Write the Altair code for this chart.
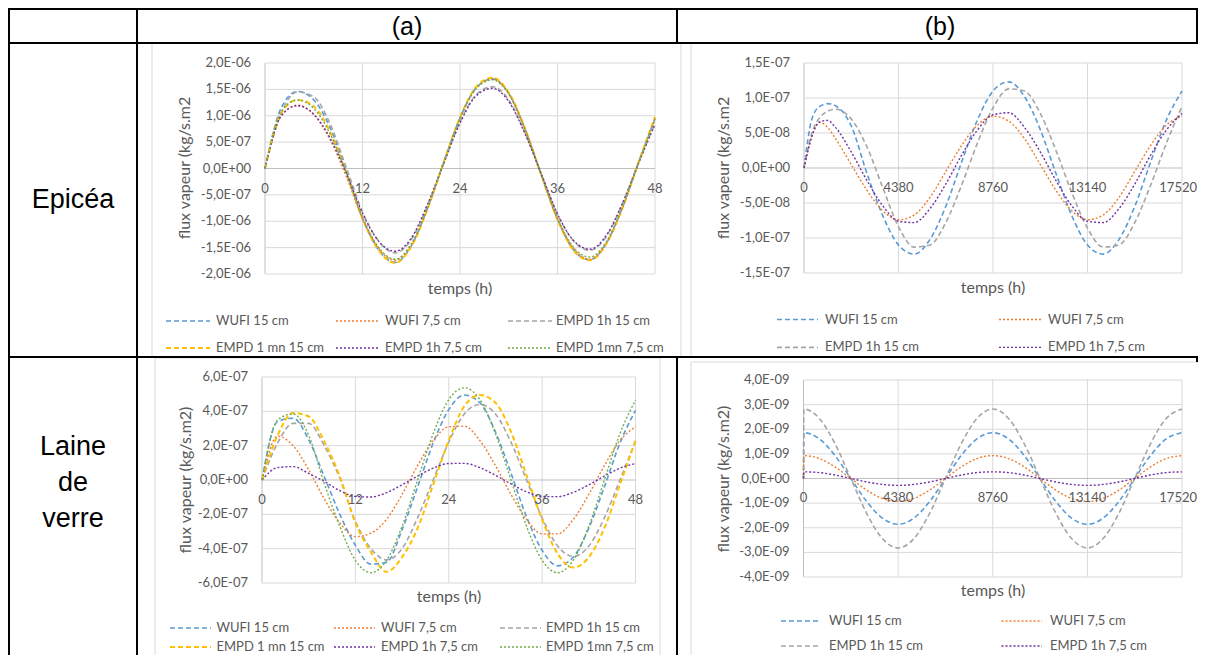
import altair as alt
import pandas as pd

# ---------------------------------------------------------------- data
# time axes (h)
T_A = [0, 2, 4, 6, 8, 10, 12, 14, 16, 18, 20, 22, 24, 26, 28, 30, 32, 34, 36, 38, 40, 42, 44, 46, 48]
T_B1 = [0, 365, 730, 1095, 1460, 2190, 2920, 3650, 4380, 5110, 5840, 6570, 7300, 8030, 8760,
        9490, 10220, 10950, 11680, 12410, 13140, 13870, 14600, 15330, 16060, 16790, 17520]
T_B2 = [0, 20, 730, 1460, 2190, 2920, 3650, 4380, 5110, 5840, 6570, 7300, 8030, 8760,
        9490, 10220, 10950, 11680, 12410, 13140, 13870, 14600, 15330, 16060, 16790, 17520]

NAMES_A = ["WUFI 15 cm", "WUFI 7,5 cm", "EMPD 1h 15 cm", "EMPD 1 mn 15 cm", "EMPD 1h 7,5 cm", "EMPD 1mn 7,5 cm"]
NAMES_B = ["WUFI 15 cm", "WUFI 7,5 cm", "EMPD 1h 15 cm", "EMPD 1h 7,5 cm"]

# Epicéa (a): flux in 1e-6 kg/s.m2
EPI_A_WUFI15 = [0, 1.15, 1.46, 1.30, 0.78, -0.05, -0.95, -1.55, -1.78, -1.47, -0.75, 0.12, 0.96, 1.53, 1.70, 1.42, 0.75, -0.12, -0.96, -1.55, -1.73, -1.42, -0.74, 0.12, 0.95]
EPI_A_WUFI75 = [0, 1.00, 1.20, 1.02, 0.55, -0.15, -0.95, -1.52, -1.74, -1.45, -0.76, 0.10, 0.95, 1.52, 1.70, 1.42, 0.75, -0.12, -0.95, -1.52, -1.72, -1.42, -0.74, 0.12, 0.95]
EPI_A_EMPD1H15 = [0, 1.05, 1.45, 1.36, 0.85, 0.02, -0.82, -1.38, -1.60, -1.35, -0.70, 0.10, 0.88, 1.40, 1.55, 1.30, 0.68, -0.10, -0.87, -1.38, -1.55, -1.29, -0.66, 0.12, 0.85]
EPI_A_EMPD1MN15 = [0, 1.05, 1.30, 1.18, 0.70, -0.08, -0.95, -1.55, -1.79, -1.48, -0.77, 0.12, 0.97, 1.55, 1.72, 1.44, 0.76, -0.12, -0.97, -1.56, -1.74, -1.43, -0.75, 0.13, 0.98]
EPI_A_EMPD1H75 = [0, 1.00, 1.19, 1.03, 0.58, -0.08, -0.85, -1.38, -1.57, -1.32, -0.68, 0.10, 0.86, 1.38, 1.52, 1.27, 0.66, -0.10, -0.86, -1.37, -1.53, -1.27, -0.66, 0.11, 0.84]
EPI_A_EMPD1MN75 = [0, 1.08, 1.30, 1.14, 0.66, -0.08, -0.92, -1.50, -1.72, -1.43, -0.74, 0.12, 0.95, 1.52, 1.68, 1.41, 0.74, -0.12, -0.94, -1.50, -1.68, -1.39, -0.72, 0.12, 0.93]

# Epicéa (b): flux in 1e-8 kg/s.m2
EPI_B_WUFI15 = [0, 7.0, 8.8, 9.2, 8.9, 6.0, -0.8, -6.8, -11.0, -12.3, -10.2, -5.5, 0.8, 6.8, 11.0, 12.3, 10.2, 5.5, -0.8, -6.8, -11.0, -12.3, -10.2, -5.5, 0.8, 6.8, 11.0]
EPI_B_WUFI75 = [0, 4.6, 6.5, 5.8, 4.2, 0.5, -3.2, -6.1, -7.4, -6.7, -4.2, -0.5, 3.2, 6.1, 7.4, 6.7, 4.2, 0.5, -3.2, -6.1, -7.4, -6.7, -4.2, -0.5, 3.2, 6.1, 7.4]
EPI_B_EMPD1H15 = [0, 5.0, 7.2, 8.1, 8.4, 7.0, 3.0, -2.8, -8.4, -11.3, -11.0, -7.8, -2.5, 3.5, 8.6, 11.3, 11.0, 7.8, 2.5, -3.5, -8.6, -11.3, -11.0, -7.8, -2.5, 3.5, 8.8]
EPI_B_EMPD1H75 = [0, 4.5, 6.6, 6.8, 5.8, 2.3, -1.8, -5.4, -7.6, -7.8, -5.8, -2.3, 1.8, 5.4, 7.6, 7.9, 5.8, 2.3, -1.8, -5.4, -7.6, -7.8, -5.8, -2.3, 1.8, 5.4, 7.8]

# Laine de verre (a): flux in 1e-7 kg/s.m2
LDV_A_WUFI15 = [0, 3.4, 3.6, 2.35, 0.2, -2.0, -3.8, -4.9, -4.8, -2.9, -0.4, 2.15, 4.1, 4.95, 4.5, 2.8, 0.4, -2.15, -4.1, -5.0, -4.5, -2.8, -0.4, 2.15, 4.05]
LDV_A_WUFI75 = [0, 2.55, 2.0, 0.6, -1.1, -2.5, -3.3, -3.1, -2.3, -0.84, 0.84, 2.3, 3.1, 3.14, 2.3, 0.84, -0.84, -2.3, -3.14, -3.14, -2.3, -0.84, 0.84, 2.3, 3.1]
LDV_A_EMPD1H15 = [0, 2.15, 3.3, 3.3, 2.0, 0.1, -2.4, -4.0, -4.65, -4.0, -2.2, 0, 2.2, 3.85, 4.4, 3.85, 2.2, 0, -2.2, -3.85, -4.45, -3.85, -2.2, 0, 2.25]
LDV_A_EMPD1MN15 = [0, 2.6, 3.9, 3.7, 2.25, 0.2, -2.5, -4.2, -5.35, -4.5, -2.8, -0.27, 2.3, 4.3, 4.95, 4.5, 2.8, 0.27, -2.3, -4.3, -5.1, -4.5, -2.8, -0.27, 2.3]
LDV_A_EMPD1H75 = [0, 0.72, 0.78, 0.38, -0.08, -0.62, -0.96, -0.99, -0.74, -0.28, 0.23, 0.69, 0.96, 0.97, 0.72, 0.28, -0.23, -0.69, -0.96, -0.97, -0.72, -0.28, 0.23, 0.69, 0.96]
LDV_A_EMPD1MN75 = [0, 3.5, 3.85, 2.6, -0.2, -2.7, -4.68, -5.4, -4.68, -2.7, 0, 2.7, 4.68, 5.37, 4.68, 2.7, 0, -2.7, -4.68, -5.4, -4.68, -2.7, 0, 2.7, 4.65]

# Laine de verre (b): flux in 1e-9 kg/s.m2
LDV_B_WUFI15 = [0, 1.86, 1.61, 0.93, 0, -0.93, -1.61, -1.86, -1.61, -0.93, 0, 0.93, 1.61, 1.86, 1.61, 0.93, 0, -0.93, -1.61, -1.86, -1.61, -0.93, 0, 0.93, 1.61, 1.86]
LDV_B_WUFI75 = [0, 0.93, 0.81, 0.47, 0, -0.47, -0.81, -0.93, -0.81, -0.47, 0, 0.47, 0.81, 0.93, 0.81, 0.47, 0, -0.47, -0.81, -0.93, -0.81, -0.47, 0, 0.47, 0.81, 0.93]
LDV_B_EMPD1H15 = [0, 2.82, 2.44, 1.41, 0, -1.41, -2.44, -2.82, -2.44, -1.41, 0, 1.41, 2.44, 2.82, 2.44, 1.41, 0, -1.41, -2.44, -2.82, -2.44, -1.41, 0, 1.41, 2.44, 2.82]
LDV_B_EMPD1H75 = [0, 0.27, 0.24, 0.14, 0, -0.14, -0.24, -0.28, -0.24, -0.14, 0, 0.14, 0.24, 0.27, 0.24, 0.14, 0, -0.14, -0.24, -0.28, -0.24, -0.14, 0, 0.14, 0.24, 0.27]

# axis ticks and labels
XT_A = [0, 12, 24, 36, 48]
XL_A = ["0", "12", "24", "36", "48"]
XT_B = [0, 4380, 8760, 13140, 17520]
XL_B = ["0", "4380", "8760", "13140", "17520"]
YT_A1 = [-2, -1.5, -1, -0.5, 0, 0.5, 1, 1.5, 2]
YL_A1 = ["-2,0E-06", "-1,5E-06", "-1,0E-06", "-5,0E-07", "0,0E+00", "5,0E-07", "1,0E-06", "1,5E-06", "2,0E-06"]
YT_B1 = [-15, -10, -5, 0, 5, 10, 15]
YL_B1 = ["-1,5E-07", "-1,0E-07", "-5,0E-08", "0,0E+00", "5,0E-08", "1,0E-07", "1,5E-07"]
YT_A2 = [-6, -4, -2, 0, 2, 4, 6]
YL_A2 = ["-6,0E-07", "-4,0E-07", "-2,0E-07", "0,0E+00", "2,0E-07", "4,0E-07", "6,0E-07"]
YT_B2 = [-4, -3, -2, -1, 0, 1, 2, 3, 4]
YL_B2 = ["-4,0E-09", "-3,0E-09", "-2,0E-09", "-1,0E-09", "0,0E+00", "1,0E-09", "2,0E-09", "3,0E-09", "4,0E-09"]

# ---------------------------------------------------------------- styles / layout
OFF = 8                     # page margin
W, H = 1190, 647            # canvas
FONT = "Lato"
TFONT = "Liberation Sans"
TXT = "#595959"
GRID = "#d9d9d9"
AXLINE = "#bfbfbf"
STYLE = {
    "WUFI 15 cm": ("#5B9BD5", "dash", 1.6),
    "WUFI 7,5 cm": ("#ED7D31", "dot", 1.4),
    "EMPD 1h 15 cm": ("#A5A5A5", "dash", 1.6),
    "EMPD 1 mn 15 cm": ("#FFC000", "dash", 2.0),
    "EMPD 1h 7,5 cm": ("#7030A0", "dot", 1.4),
    "EMPD 1mn 7,5 cm": ("#70AD47", "dot", 1.4),
}
DASHES = {"dash": [5, 3], "dot": [2, 2]}

# plot areas (screen px): left, right, top, bottom
BOX_A1 = (265, 655, 63, 274)
BOX_B1 = (804, 1182, 63, 273)
BOX_A2 = (262, 635.5, 377, 583)
BOX_B2 = (803.5, 1182, 380, 577)


def panel(t, series, names, xdom, xt, xl, ydom, yt, yl, box, xdy, last_right):
    L, R, T, B = [v - OFF for v in box]
    xs = alt.Scale(domain=xdom, range=[L, R], nice=False, zero=False)
    ys = alt.Scale(domain=ydom, range=[B, T], nice=False, zero=False)

    def X(f):
        return alt.X(f, type="quantitative", scale=xs, axis=None)

    def Y(f):
        return alt.Y(f, type="quantitative", scale=ys, axis=None)

    vg = pd.DataFrame({"t": xt, "y0": [ydom[0]] * len(xt), "y1": [ydom[1]] * len(xt),
                       "c": [AXLINE if v == xdom[0] else GRID for v in xt]})
    vgrid = alt.Chart(vg).mark_rule(strokeWidth=1).encode(
        x=X("t"), y=Y("y0"), y2=alt.Y2("y1"), color=alt.Color("c:N", scale=None))
    hg = pd.DataFrame({"v": yt, "x0": [xdom[0]] * len(yt), "x1": [xdom[1]] * len(yt),
                       "c": [AXLINE if v == 0 else GRID for v in yt]})
    hgrid = alt.Chart(hg).mark_rule(strokeWidth=1).encode(
        y=Y("v"), x=X("x0"), x2=alt.X2("x1"), color=alt.Color("c:N", scale=None))

    rows = []
    for name, vals in zip(names, series):
        col, sty, w = STYLE[name]
        for ti, vi in zip(t, vals):
            rows.append({"name": name, "t": ti, "v": vi, "color": col, "style": sty, "w": w})
    df = pd.DataFrame(rows)
    lines = []
    for sty in ["dash", "dot"]:
        sub = df[df["style"] == sty]
        lines.append(alt.Chart(sub).mark_line(strokeDash=DASHES[sty], interpolate="monotone").encode(
            x=X("t"), y=Y("v"),
            color=alt.Color("color:N", scale=None),
            strokeWidth=alt.StrokeWidth("w:Q", scale=None),
            detail="name:N"))

    ylab = alt.Chart(pd.DataFrame({"t": [xdom[0]] * len(yt), "v": yt, "lab": yl})).mark_text(
        align="right", baseline="middle", dx=-14, font=FONT, fontSize=13, color=TXT).encode(
        x=X("t"), y=Y("v"), text="lab:N")
    n_c = len(xt) - 1 if last_right else len(xt)
    xlab = alt.Chart(pd.DataFrame({"t": xt[:n_c], "v": [0] * n_c, "lab": xl[:n_c]})).mark_text(
        align="center", baseline="middle", dy=xdy, font=FONT, fontSize=13, color=TXT).encode(
        x=X("t"), y=Y("v"), text="lab:N")
    layers = [vgrid, hgrid, *lines, ylab, xlab]
    if last_right:
        layers.append(alt.Chart(pd.DataFrame({"t": xt[-1:], "v": [0], "lab": xl[-1:]})).mark_text(
            align="right", baseline="middle", dx=15, dy=xdy, font=FONT, fontSize=13, color=TXT).encode(
            x=X("t"), y=Y("v"), text="lab:N"))
    return alt.layer(*layers)


def px(df):
    d = df.copy()
    for c in d.columns:
        if c.startswith("x") or c.startswith("y"):
            d[c] = d[c] - OFF
    return d


def PX(f):
    return alt.X(f, type="quantitative", scale=None)


def PY(f):
    return alt.Y(f, type="quantitative", scale=None)


# chart-area frames
frames = px(pd.DataFrame({
    "x0": [152, 691, 155, 691], "x1": [681, 1215, 660, 1215],
    "y0": [43, 43, 358, 362], "y1": [357, 357, 665, 665]}))
frame_layer = alt.Chart(frames).mark_rect(fill="white", stroke=GRID, strokeWidth=1).encode(
    x=PX("x0"), x2=alt.X2("x1"), y=PY("y0"), y2=alt.Y2("y1"))

# table lines
tl = px(pd.DataFrame({
    "x0": [8, 8, 8, 9, 137, 677, 677, 1197, 1197],
    "x1": [1206, 1206, 1206, 9, 137, 677, 677, 1197, 1197],
    "y0": [9, 43, 357, 9, 9, 9, 357, 9, 357],
    "y1": [9, 43, 357, 660, 660, 43, 660, 43, 362]}))
table_layer = alt.Chart(tl).mark_rule(color="black", strokeWidth=2).encode(
    x=PX("x0"), x2=alt.X2("x1"), y=PY("y0"), y2=alt.Y2("y1"))

hd = px(pd.DataFrame({"x": [407, 940], "y": [27, 27], "txt": ["(a)", "(b)"]}))
header_text = alt.Chart(hd).mark_text(font=TFONT, fontSize=25, color="black",
                                      align="center", baseline="middle").encode(
    x=PX("x"), y=PY("y"), text="txt:N")
rl = px(pd.DataFrame({"x": [73, 73, 73, 73], "y": [200, 447, 483, 519],
                      "txt": ["Epicéa", "Laine", "de", "verre"]}))
row_text = alt.Chart(rl).mark_text(font=TFONT, fontSize=27, color="black",
                                   align="center", baseline="middle").encode(
    x=PX("x"), y=PY("y"), text="txt:N")

# axis titles
at = px(pd.DataFrame({
    "x": [460, 993, 449, 993, 185, 724, 185.5, 724],
    "y": [289, 288, 597, 591, 168, 168, 480, 479],
    "ang": [0, 0, 0, 0, 270, 270, 270, 270],
    "txt": ["temps (h)", "temps (h)", "temps (h)", "temps (h)",
            "flux vapeur (kg/s.m2", "flux vapeur (kg/s.m2",
            "flux vapeur (kg/s.m2)", "flux vapeur (kg/s.m2)"]}))
axis_titles = alt.Chart(at).mark_text(font=FONT, fontSize=16, color=TXT,
                                      align="center", baseline="middle").encode(
    x=PX("x"), y=PY("y"), text="txt:N", angle=alt.Angle("ang:Q", scale=None))

# legends: (row y, [(sym x0, sym x1, text x), ...], [names by row])
LEG = [
    ([321, 348], [(166, 210, 216), (336, 378, 385), (508, 552, 556)], [NAMES_A[:3], NAMES_A[3:]]),
    ([319.5, 347.4], [(777, 818, 825), (999, 1042, 1048)], [NAMES_B[:2], NAMES_B[2:]]),
    ([628, 647], [(170, 211, 216.5), (334, 375, 381), (500, 541, 546)], [NAMES_A[:3], NAMES_A[3:]]),
    ([621, 646], [(781, 818, 829), (1001.5, 1042, 1050)], [NAMES_B[:2], NAMES_B[2:]]),
]
lrows = []
for ys_, cols, names_rows in LEG:
    for yy, nrow in zip(ys_, names_rows):
        for (a, b, c), nm in zip(cols, nrow):
            col, sty, w = STYLE[nm]
            lrows.append({"x0": a, "x1": b, "xt": c, "y": yy, "name": nm, "color": col, "style": sty, "w": w})
ldf = pd.DataFrame(lrows)
ldf_px = ldf.copy()
for c in ["x0", "x1", "xt", "y"]:
    ldf_px[c] = ldf_px[c] - OFF
legend_layers = []
for sty in ["dash", "dot"]:
    legend_layers.append(alt.Chart(ldf_px[ldf_px["style"] == sty]).mark_rule(strokeDash=DASHES[sty]).encode(
        x=PX("x0"), x2=alt.X2("x1"), y=PY("y"),
        color=alt.Color("color:N", scale=None),
        strokeWidth=alt.StrokeWidth("w:Q", scale=None)))
legend_layers.append(alt.Chart(ldf_px).mark_text(font=FONT, fontSize=13, color=TXT,
                                                 align="left", baseline="middle").encode(
    x=PX("xt"), y=PY("y"), text="name:N"))

p_a1 = panel(T_A, [EPI_A_WUFI15, EPI_A_WUFI75, EPI_A_EMPD1H15, EPI_A_EMPD1MN15, EPI_A_EMPD1H75, EPI_A_EMPD1MN75],
             NAMES_A, [0, 48], XT_A, XL_A, [-2, 2], YT_A1, YL_A1, BOX_A1, 20, False)
p_b1 = panel(T_B1, [EPI_B_WUFI15, EPI_B_WUFI75, EPI_B_EMPD1H15, EPI_B_EMPD1H75],
             NAMES_B, [0, 17520], XT_B, XL_B, [-15, 15], YT_B1, YL_B1, BOX_B1, 20, True)
p_a2 = panel(T_A, [LDV_A_WUFI15, LDV_A_WUFI75, LDV_A_EMPD1H15, LDV_A_EMPD1MN15, LDV_A_EMPD1H75, LDV_A_EMPD1MN75],
             NAMES_A, [0, 48], XT_A, XL_A, [-6, 6], YT_A2, YL_A2, BOX_A2, 20, False)
p_b2 = panel(T_B2, [LDV_B_WUFI15, LDV_B_WUFI75, LDV_B_EMPD1H15, LDV_B_EMPD1H75],
             NAMES_B, [0, 17520], XT_B, XL_B, [-4, 4], YT_B2, YL_B2, BOX_B2, 19, True)

chart = alt.layer(
    frame_layer, table_layer, header_text, row_text,
    p_a1, p_b1, p_a2, p_b2,
    axis_titles, *legend_layers
).resolve_scale(x="independent", y="independent").properties(
    width=W, height=H, autosize=alt.AutoSizeParams(type="none"), padding=0, background="white"
).configure_view(stroke=None)

chart.save("out.html", embed_options={"renderer": "svg", "actions": False})
